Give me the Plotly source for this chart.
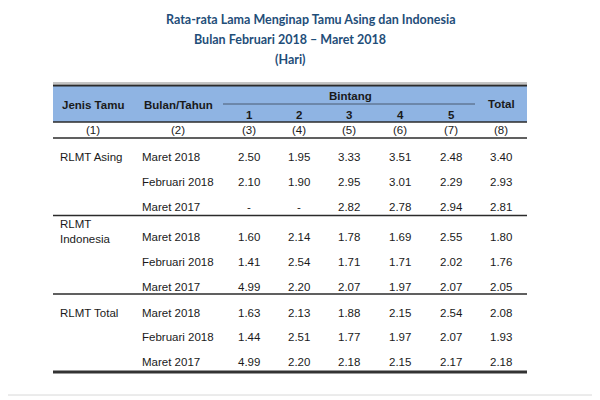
import plotly.graph_objects as go

title_lines = ["Rata-rata Lama Menginap Tamu Asing dan Indonesia",
               "Bulan Februari 2018 – Maret 2018",
               "(Hari)"]
col_numbers = ["(1)", "(2)", "(3)", "(4)", "(5)", "(6)", "(7)", "(8)"]
bintang_labels = ["1", "2", "3", "4", "5"]
groups = ["RLMT Asing", "RLMT<br>Indonesia", "RLMT Total"]
periods = ["Maret 2018", "Februari 2018", "Maret 2017"]

bintang1 = ["2.50", "2.10", "-", "1.60", "1.41", "4.99", "1.63", "1.44", "4.99"]
bintang2 = ["1.95", "1.90", "-", "2.14", "2.54", "2.20", "2.13", "2.51", "2.20"]
bintang3 = ["3.33", "2.95", "2.82", "1.78", "1.71", "2.07", "1.88", "1.77", "2.18"]
bintang4 = ["3.51", "3.01", "2.78", "1.69", "1.71", "1.97", "2.15", "1.97", "2.15"]
bintang5 = ["2.48", "2.29", "2.94", "2.55", "2.02", "2.07", "2.54", "2.07", "2.17"]
total = ["3.40", "2.93", "2.81", "1.80", "1.76", "2.05", "2.08", "1.93", "2.18"]

# layout constants (pixel space of the browser window)
OFF = 8  # page body margin compensation
X_LEFT, X_RIGHT = 53, 527
COL_X = [93, 178, 249, 299, 349, 400, 451, 501]
BODY_LABEL_X = 58
BODY_PERIOD_X = 140
ROW_Y = [157, 182, 207, 237, 262, 287, 313, 337, 362]
GROUP_Y = [157, 231, 313]

NARROW = "Liberation Sans Narrow, Arial Narrow, Liberation Sans, Arial, sans-serif"
TITLE_FONT = "Lato, Carlito, Calibri, sans-serif"
TXT = "#1a1a1a"
LINE = "#2b2b2b"

fig = go.Figure()
fig.add_trace(go.Scatter(x=[OFF, 600 + OFF], y=[OFF, 400 + OFF], mode="markers",
                         marker=dict(opacity=0), hoverinfo="skip", showlegend=False))

shapes = []
shapes.append(dict(type="rect", x0=X_LEFT, x1=X_RIGHT, y0=85, y1=122,
                   fillcolor="#8FB4E3", line=dict(width=0), layer="below"))
shapes.append(dict(type="line", x0=X_LEFT, x1=X_RIGHT, y0=83, y1=83, line=dict(color="#8a8a8a", width=1)))
shapes.append(dict(type="line", x0=X_LEFT, x1=X_RIGHT, y0=85.5, y1=85.5, line=dict(color=LINE, width=2)))
shapes.append(dict(type="line", x0=223, x1=475, y0=104, y1=104, line=dict(color="#4a5a70", width=1)))
shapes.append(dict(type="line", x0=X_LEFT, x1=X_RIGHT, y0=122, y1=122, line=dict(color=LINE, width=1.5)))
shapes.append(dict(type="line", x0=X_LEFT, x1=X_RIGHT, y0=138, y1=138, line=dict(color=LINE, width=1.5)))
for yy in [215.5, 294]:
    shapes.append(dict(type="line", x0=X_LEFT, x1=X_RIGHT, y0=yy, y1=yy, line=dict(color=LINE, width=1.5)))
shapes.append(dict(type="line", x0=X_LEFT, x1=X_RIGHT, y0=372, y1=372, line=dict(color="#333333", width=3)))
shapes.append(dict(type="line", x0=0, x1=600, y0=395, y1=395, line=dict(color="#d8d8d8", width=1)))

ann = []
def t(x, y, s, size=11.5, bold=False, xanchor="center", family=NARROW, color=TXT):
    if bold:
        s = "<b>" + s + "</b>"
    ann.append(dict(x=x, y=y, text=s, showarrow=False, xanchor=xanchor, yanchor="middle",
                    font=dict(family=family, size=size, color=color), align="left"))

TS = 12.5
t(311, 19, title_lines[0], size=TS, bold=True, family=TITLE_FONT, color="#1F4E79")
t(290, 39, title_lines[1], size=TS, bold=True, family=TITLE_FONT, color="#1F4E79")
t(290, 59, title_lines[2], size=TS, bold=True, family=TITLE_FONT, color="#1F4E79")

t(COL_X[0], 105, "Jenis Tamu", bold=True)
t(COL_X[1], 105, "Bulan/Tahun", bold=True)
t(350, 96, "Bintang", bold=True)
for i, lab in enumerate(bintang_labels):
    t(COL_X[2 + i], 115, lab, bold=True)
t(COL_X[7], 104, "Total", bold=True)
for i, lab in enumerate(col_numbers):
    t(COL_X[i], 130, lab)

for g, gy in zip(groups, GROUP_Y):
    t(BODY_LABEL_X, gy, g, xanchor="left")
cols = [bintang1, bintang2, bintang3, bintang4, bintang5, total]
for r, ry in enumerate(ROW_Y):
    t(BODY_PERIOD_X, ry, periods[r % 3], xanchor="left")
    for c, col in enumerate(cols):
        t(COL_X[2 + c], ry, col[r])

fig.update_layout(
    width=600, height=400, margin=dict(l=0, r=0, t=0, b=0),
    paper_bgcolor="white", plot_bgcolor="white",
    xaxis=dict(range=[OFF, 600 + OFF], visible=False, fixedrange=True),
    yaxis=dict(range=[400 + OFF, OFF], visible=False, fixedrange=True),
    shapes=shapes, annotations=ann, showlegend=False,
)
fig.write_html("out.html")
